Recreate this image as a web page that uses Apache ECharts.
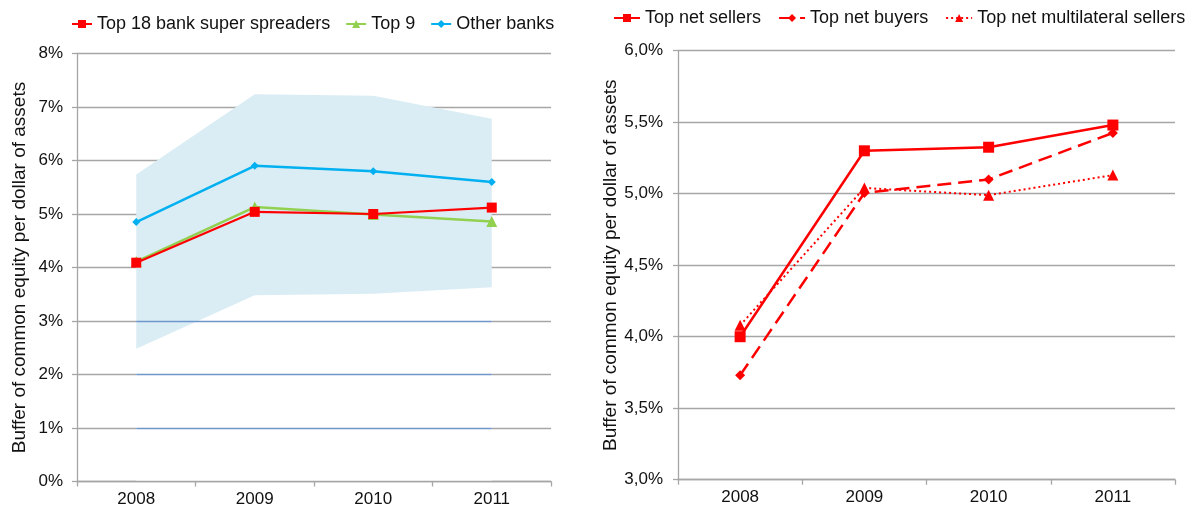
<!DOCTYPE html>
<html>
<head>
<meta charset="utf-8">
<script src="https://cdn.jsdelivr.net/npm/echarts@6/dist/echarts.min.js"></script>
<style>
  html, body { margin: 0; padding: 0; background: #fff; }
  #chart { width: 1190px; height: 508px; }
</style>
</head>
<body>
<div id="chart"></div>
<script>
// Years shared by both panels
const years = ['2008', '2009', '2010', '2011'];

// Left panel: buffer of common equity per dollar of assets (%)
const superSpreaders = [4.09, 5.04, 5.00, 5.12];
const top9 = [4.11, 5.13, 4.99, 4.86];
const otherBanks = [4.85, 5.90, 5.80, 5.60];
// Range of other banks (shaded band)
const bandLow = [2.48, 3.48, 3.51, 3.63];
const bandHigh = [5.74, 7.24, 7.21, 6.78];
const leftTicks = [0, 1, 2, 3, 4, 5, 6, 7, 8];

// Right panel (%)
const netSellers = [4.00, 5.30, 5.325, 5.48];
const netBuyers = [3.73, 5.005, 5.10, 5.425];
const multilateralSellers = [4.08, 5.04, 4.99, 5.13];
const rightTicks = [3.0, 3.5, 4.0, 4.5, 5.0, 5.5, 6.0];

const bandSpread = bandHigh.map((v, i) => +(v - bandLow[i]).toFixed(3));

const FONT = "'Liberation Sans', Arial, sans-serif";
const GRID_GREY = '#a6a6a6';

function xAxisFor(gridIndex) {
  return {
    type: 'category', gridIndex, data: years, boundaryGap: true, z: 10,
    axisLine: { lineStyle: { color: GRID_GREY, width: 1.3 } },
    axisTick: { show: true, length: 5, lineStyle: { color: GRID_GREY, width: 1.3 } },
    axisLabel: { color: '#111', fontFamily: FONT, fontSize: 17, margin: 9 }
  };
}

function yAxisFor(gridIndex, ticks, fmt, gap, labelMargin) {
  return {
    type: 'value', gridIndex,
    min: ticks[0], max: ticks[ticks.length - 1],
    interval: ticks[1] - ticks[0],
    name: 'Buffer of common equity per dollar of assets',
    nameLocation: 'middle', nameGap: gap, nameRotate: 90,
    nameTextStyle: { color: '#111', fontFamily: FONT, fontSize: 19 },
    axisLine: { show: true, lineStyle: { color: GRID_GREY, width: 1.3 } },
    axisTick: { show: true, inside: false, length: 5, lineStyle: { color: GRID_GREY, width: 1.3 } },
    axisLabel: { color: '#111', fontFamily: FONT, fontSize: 17, margin: labelMargin, formatter: fmt },
    splitLine: { show: true, lineStyle: { color: GRID_GREY, width: 1.3 } }
  };
}

const guideLevels = [1, 2, 3];

const option = {
  animation: false,
  backgroundColor: '#fff',
  textStyle: { fontFamily: FONT },
  grid: [
    { left: 77, top: 53.5, width: 474, height: 428 },
    { left: 678, top: 50.7, width: 497, height: 429 }
  ],
  legend: [
    {
      data: ['Top 18 bank super spreaders', 'Top 9', 'Other banks'],
      left: 66, top: 10, width: 520, itemGap: 15, itemWidth: 20, itemHeight: 10,
      textStyle: { color: '#111', fontFamily: FONT, fontSize: 18 }
    },
    {
      data: ['Top net sellers', 'Top net buyers', 'Top net multilateral sellers'],
      left: 613, top: 9, width: 577, padding: 0, itemGap: 17, itemWidth: 26, itemHeight: 10,
      textStyle: { color: '#111', fontFamily: FONT, fontSize: 18 }
    }
  ],
  xAxis: [xAxisFor(0), xAxisFor(1)],
  yAxis: [
    yAxisFor(0, leftTicks, v => v + '%', 48, 14),
    yAxisFor(1, rightTicks, v => v.toFixed(1).replace('.', ',') + '%', 56, 15)
  ],
  series: [
    // lower edge of the band: white fill hides the grid underneath
    {
      name: 'bandBase', type: 'line', xAxisIndex: 0, yAxisIndex: 0,
      data: bandLow, stack: 'band', symbol: 'none', z: 1,
      lineStyle: { width: 0, opacity: 0 },
      areaStyle: { color: '#ffffff', opacity: 1 },
      markLine: {
        silent: true, symbol: 'none', label: { show: false },
        lineStyle: { color: '#6f96cc', width: 1.3, type: 'solid' },
        data: guideLevels.map(v => [
          { coord: [years[0], v] },
          { coord: [years[years.length - 1], v] }
        ])
      }
    },
    {
      name: 'bandRange', type: 'line', xAxisIndex: 0, yAxisIndex: 0,
      data: bandSpread, stack: 'band', symbol: 'none', z: 2,
      lineStyle: { width: 0, opacity: 0 },
      areaStyle: { color: '#daedf4', opacity: 1 }
    },
    {
      name: 'Other banks', type: 'line', xAxisIndex: 0, yAxisIndex: 0, z: 3,
      data: otherBanks, symbol: 'diamond', symbolSize: 8,
      itemStyle: { color: '#00b0f0' }, lineStyle: { color: '#00b0f0', width: 2.5 }
    },
    {
      name: 'Top 9', type: 'line', xAxisIndex: 0, yAxisIndex: 0, z: 4,
      data: top9, symbol: 'triangle', symbolSize: 11,
      itemStyle: { color: '#92d050' }, lineStyle: { color: '#92d050', width: 2.5 }
    },
    {
      name: 'Top 18 bank super spreaders', type: 'line', xAxisIndex: 0, yAxisIndex: 0, z: 5,
      data: superSpreaders, symbol: 'rect', symbolSize: 10,
      itemStyle: { color: '#ff0000' }, lineStyle: { color: '#ff0000', width: 2.2 }
    },
    {
      name: 'Top net sellers', type: 'line', xAxisIndex: 1, yAxisIndex: 1,
      data: netSellers, symbol: 'rect', symbolSize: 11,
      itemStyle: { color: '#ff0000' }, lineStyle: { color: '#ff0000', width: 2.5, type: 'solid' }
    },
    {
      name: 'Top net buyers', type: 'line', xAxisIndex: 1, yAxisIndex: 1,
      data: netBuyers, symbol: 'diamond', symbolSize: 10,
      itemStyle: { color: '#ff0000' }, lineStyle: { color: '#ff0000', width: 2.5, type: [14, 7] }
    },
    {
      name: 'Top net multilateral sellers', type: 'line', xAxisIndex: 1, yAxisIndex: 1,
      data: multilateralSellers, symbol: 'triangle', symbolSize: 11,
      itemStyle: { color: '#ff0000' }, lineStyle: { color: '#ff0000', width: 2, type: [2, 3] }
    }
  ]
};

const chart = echarts.init(document.getElementById('chart'), null, { renderer: 'canvas' });
chart.setOption(option);
</script>
</body>
</html>
